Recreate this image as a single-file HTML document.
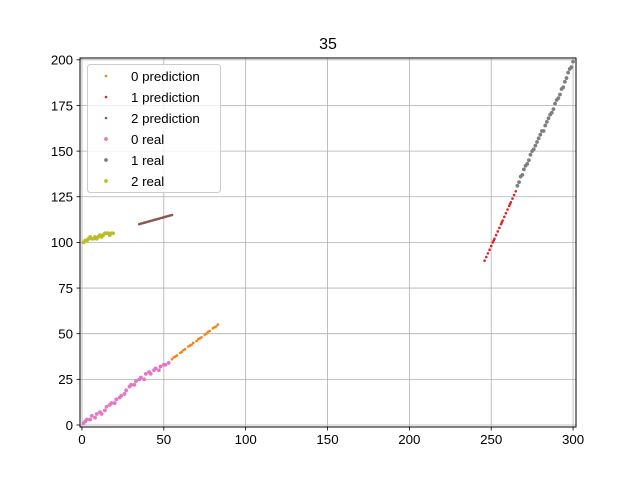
<!DOCTYPE html>
<html><head><meta charset="utf-8"><style>
body{margin:0;background:#fff}
svg{font-family:"Liberation Sans","DejaVu Sans",sans-serif}
</style></head><body>
<svg id="chart" width="640" height="480"></svg>
<script>
const xTicks=[0,50,100,150,200,250,300];
const yTicks=[0,25,50,75,100,125,150,175,200];
const labels=["0 prediction","1 prediction","2 prediction","0 real","1 real","2 real"];
const colors=["#ff7f0e","#d62728","#8c564b","#e377c2","#7f7f7f","#bcbd22"];
const p0x=[55,56,57,58,60,61,62,63,65,66,67,68,70,71,72,73,75,76,77,78,80,81,82,83];
const p0y=[36,37,37.5,38,39.5,40,41,41.5,43,43.5,44,45,46,47,47.5,48,49.5,50,51,51.5,53,53.5,54,55];
const p1x=[246,247,248,249,250,251,251.5,252,253,254,255,256,256.5,257,258,259,260,261,261.5,262,263,264,265];
const p1y=[90,92,94,96,98,100,101,102,104,106,108,110,111,112,114,116,118,120,121,122,124,126,128];
const p2x=[35,36,37,38,39,40,41,42,43,44,45,46,47,48,49,50,51,52,53,54,55];
const p2y=[110,110.3,110.5,110.8,111,111.3,111.5,111.8,112,112.3,112.5,112.8,113,113.3,113.5,113.8,114,114.3,114.5,114.8,115];
const r0x=[1,2,3,5,6,8,9,11,12,14,15,17,18,20,21,23,24,26,27,29,30,32,33,35,36,38,39,41,42,44,45,47,48,50,51,53];
const r0y=[1,2,3,3,5,4,6,7,6,8,10,11,12,12,14,15,16,17,19,21,22,22,24,25,26,25,28,29,28,30,31,30,32,33,33,34];
const r1x=[266,267,268,269,270,271,272,273,274,275,276,277,278,279,280,281,282,283,284,285,286,287,288,289,290,291,292,293,294,295,296,297,298,299,300];
const r1y=[131,133,136,137,140,142,143,145,148,150,151,153,155,157,159,161,161,164,166,168,170,171,173,176,178,179,181,184,185,188,190,193,195,196,199];
const r2x=[1,2,3,4,5,6,7,8,9,10,11,12,13,14,15,16,17,18,19];
const r2y=[100,101,101,102,103,102,102,103,102,103,104,103,104,105,105,105,104,105,105];
const seriesX=[p0x,p1x,p2x,r0x,r1x,r2x];
const seriesY=[p0y,p1y,p2y,r0y,r1y,r2y];
const sizes=[1.3,1.3,1.3,1.9,1.9,1.9];

const L=80,R=576,T=58,B=427,xmin=-1.2,xmax=301.8,ymin=-1.1,ymax=201;
const sx=v=>L+(v-xmin)/(xmax-xmin)*(R-L);
const sy=v=>B-(v-ymin)/(ymax-ymin)*(B-T);
const svg=document.getElementById('chart');
const NS="http://www.w3.org/2000/svg";
function mk(tag,attrs,parent){const e=document.createElementNS(NS,tag);for(const k in attrs)e.setAttribute(k,attrs[k]);(parent||svg).appendChild(e);return e;}

const grid=mk('g',{});


xTicks.forEach(t=>{
  mk('line',{x1:sx(t),x2:sx(t),y1:T,y2:B,stroke:'#b0b0b0','stroke-width':0.8},grid);
  mk('line',{x1:sx(t),x2:sx(t),y1:B,y2:B+3.5,stroke:'#000','stroke-width':0.8});
  const tx=mk('text',{x:sx(t),y:B+17,'text-anchor':'middle','font-size':13.3});
  tx.textContent=t;
  
  
});
yTicks.forEach(t=>{
  mk('line',{x1:L,x2:R,y1:sy(t),y2:sy(t),stroke:'#b0b0b0','stroke-width':0.8},grid);
  mk('line',{x1:L-3.5,x2:L,y1:sy(t),y2:sy(t),stroke:'#000','stroke-width':0.8});
  const tx=mk('text',{x:L-7,y:sy(t)+4.8,'text-anchor':'end','font-size':13.3});
  tx.textContent=t;
  
  
});
seriesX.forEach((xs,i)=>{
  const g=mk('g',{fill:colors[i]});
  
  
  xs.forEach((x,j)=>{
    const c=mk('circle',{cx:sx(x),cy:sy(seriesY[i][j]),r:sizes[i]},g);
    
    
  });
});
const frame=mk('rect',{x:L,y:T,width:R-L,height:B-T,fill:'none',stroke:'#000','stroke-width':1});


const title=mk('text',{x:(L+R)/2,y:49,'text-anchor':'middle','font-size':16});
title.textContent='35';


const leg=mk('g',{});


mk('rect',{x:87.5,y:64.5,width:133,height:128,rx:3,fill:'#fff','fill-opacity':0.8,stroke:'#ccc','stroke-width':1},leg);
labels.forEach((lb,i)=>{
  const y=76+i*21;
  const e=mk('g',{},leg);
  
  
  mk('circle',{cx:106,cy:y,r:sizes[i],fill:colors[i]},e);
  const t=mk('text',{x:131,y:y+4.8,'font-size':13.3},e);
  t.textContent=lb;
});
</script>
</body></html>
